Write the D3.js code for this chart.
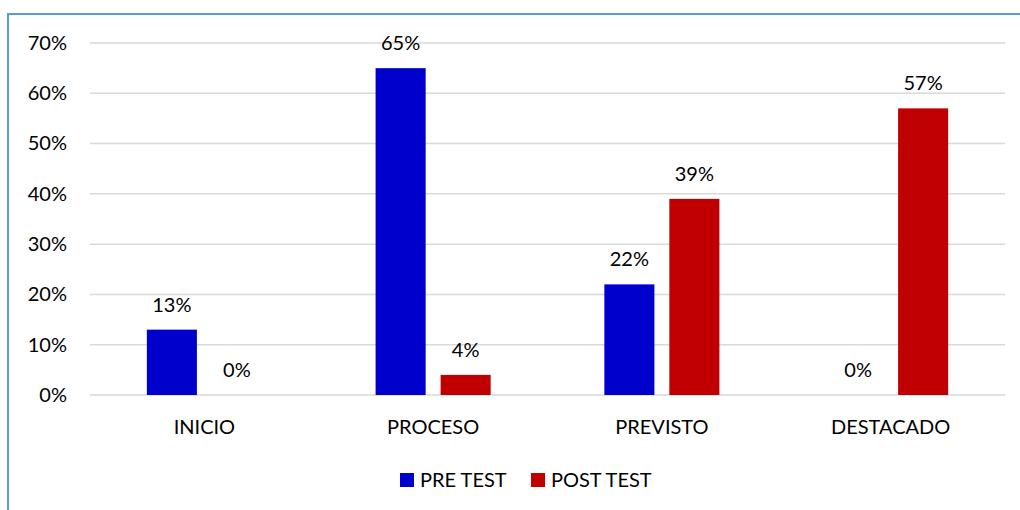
<!DOCTYPE html>
<html>
<head>
<meta charset="utf-8">
<script src="https://cdn.jsdelivr.net/npm/d3@7"></script>
<style>
  body { margin: 0; background: #fff; }
  text { font-family: Lato, "Open Sans", sans-serif; fill: #000; }
</style>
</head>
<body>
<div id="chart"></div>
<script>
// data
let categories = ['INICIO', 'PROCESO', 'PREVISTO', 'DESTACADO']
let seriesNames = ['PRE TEST', 'POST TEST']
let preTest = [13, 65, 22, 0]
let postTest = [0, 4, 39, 57]
let yTicks = [0, 10, 20, 30, 40, 50, 60, 70]
let colors = ['#0000CC', '#C00000']

let svgWidth = 1020
let svgHeight = 510

let margin = { top: 43, right: 15, bottom: 115, left: 90 }
let chartWidth = svgWidth - margin.left - margin.right
let chartHeight = svgHeight - margin.top - margin.bottom

let svg = d3.select('#chart')
    .append('svg')
    .attr('width', svgWidth)
    .attr('height', svgHeight)

// frame lines (top and left)
svg.append('line')
    .attr('x1', 8).attr('x2', svgWidth).attr('y1', 14).attr('y2', 14)
    .attr('stroke', '#5b9bd5').attr('stroke-width', 2)
svg.append('line')
    .attr('x1', 8).attr('x2', 8).attr('y1', 13).attr('y2', svgHeight)
    .attr('stroke', '#5b9bd5').attr('stroke-width', 2)

let chartGroup = svg.append('g')
    .attr('transform', `translate(${margin.left}, ${margin.top})`)

let x0 = d3.scaleBand()
    .domain(categories)
    .range([0, chartWidth])
    .paddingInner(0.497)
    .paddingOuter(0.2485)

let x1 = d3.scaleBand()
    .domain(seriesNames)
    .range([0, x0.bandwidth()])
    .paddingInner(0.23)

let y = d3.scaleLinear()
    .domain([0, 70])
    .range([chartHeight, 0])

// gridlines
chartGroup.append('g')
    .selectAll('line')
    .data(yTicks)
    .enter()
    .append('line')
    .attr('x1', 0)
    .attr('x2', chartWidth)
    .attr('y1', d => y(d))
    .attr('y2', d => y(d))
    .attr('stroke', '#d9d9d9')
    .attr('stroke-width', 1.5)

// y axis labels
let yAxis = chartGroup.append('g')
    .call(d3.axisLeft(y).tickValues(yTicks).tickFormat(d => d + '%').tickSize(0).tickPadding(23))
yAxis.select('.domain').remove()
yAxis.selectAll('text')
    .attr('font-size', 20)
    .attr('font-family', 'Lato, "Open Sans", sans-serif')
    .attr('fill', '#000')

// x axis labels
let xAxis = chartGroup.append('g')
    .attr('transform', `translate(0, ${chartHeight})`)
    .call(d3.axisBottom(x0).tickSize(0).tickPadding(25))
xAxis.select('.domain').remove()
xAxis.selectAll('text')
    .attr('font-size', 20)
    .attr('font-family', 'Lato, "Open Sans", sans-serif')
    .attr('fill', '#000')

let rows = categories.map((c, i) => ({ cat: c, vals: [preTest[i], postTest[i]] }))

let groups = chartGroup.selectAll('.grp')
    .data(rows)
    .enter()
    .append('g')
    .attr('class', 'grp')
    .attr('transform', d => `translate(${x0(d.cat)}, 0)`)

groups.selectAll('rect')
    .data(d => d.vals.map((v, j) => ({ name: seriesNames[j], v: v, j: j })))
    .enter()
    .append('rect')
    .attr('x', d => x1(d.name))
    .attr('y', d => y(d.v))
    .attr('width', x1.bandwidth())
    .attr('height', d => chartHeight - y(d.v))
    .attr('fill', d => colors[d.j])

groups.selectAll('text.val')
    .data(d => d.vals.map((v, j) => ({ name: seriesNames[j], v: v, j: j })))
    .enter()
    .append('text')
    .attr('class', 'val')
    .attr('x', d => x1(d.name) + x1.bandwidth() / 2)
    .attr('y', d => y(d.v) - 18)
    .attr('text-anchor', 'middle')
    .attr('font-size', 20)
    .text(d => d.v + '%')

// legend
let legend = svg.append('g')
    .attr('transform', 'translate(400, 473)')

let legendX = [0, 131]
seriesNames.forEach((name, i) => {
    legend.append('rect')
        .attr('x', legendX[i])
        .attr('y', 0)
        .attr('width', 14)
        .attr('height', 14)
        .attr('fill', colors[i])
    legend.append('text')
        .attr('x', legendX[i] + 20)
        .attr('y', 14)
        .attr('font-size', 20)
        .text(name)
})
</script>
</body>
</html>
